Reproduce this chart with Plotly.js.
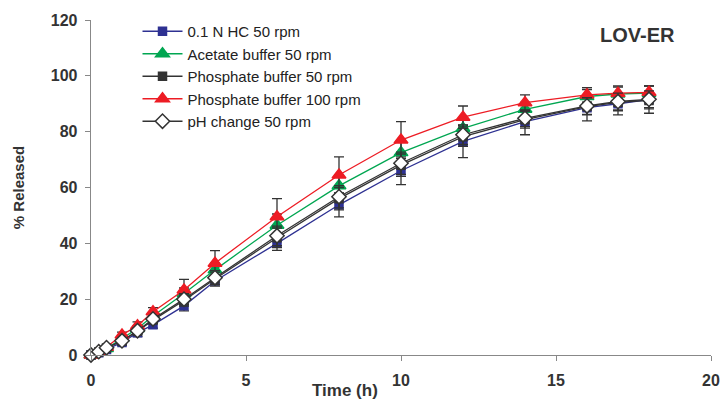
<!DOCTYPE html>
<html><head><meta charset="utf-8">
<script src="https://cdn.plot.ly/plotly-3.0.1.min.js"></script>
<style>body{margin:0;background:#fff}#chart{width:721px;height:400px}</style>
</head><body><div id="chart"></div>
<script>
const time = [0, 0.25, 0.5, 1, 1.5, 2, 3, 4, 6, 8, 10, 12, 14, 16, 17, 18];
const hcl50 = [0, 0.8, 2, 4.5, 8, 10.8, 17.6, 26.5, 40, 53.8, 66, 76.5, 83.6, 88.6, 90, 91.5];
const acetate50 = [0, 1, 2.3, 6, 9.5, 14, 22, 30.5, 46.5, 60.6, 72.5, 81.2, 88, 92.6, 93.5, 93.8];
const phosphate50 = [0, 1.1, 2.5, 5, 8.5, 12.5, 19.5, 27.2, 42, 56, 68, 78.2, 84.3, 89, 90.5, 91.2];
const phosphate100 = [0, 1.3, 2.8, 7.2, 10.5, 15.5, 23.3, 32.9, 49.5, 64.5, 77, 85.2, 90.4, 93.2, 93.8, 94.1];
const phChange50 = [0, 1.2, 2.6, 5.1, 8.7, 12.9, 20, 27.7, 42.7, 56.7, 68.7, 78.9, 84.8, 89.2, 90.8, 91.6];
const errHcl = [0, 0.5, 0.5, 1, 1.4, 1.2, 1.8, 1.2, 2.5, 4.3, 5, 5.8, 4.7, 4.7, 4, 4.9];
const errAcetate = [0, 0.4, 0.4, 0.8, 1, 1.2, 2, 2.5, 4, 4, 4, 3.5, 2.5, 2.5, 2.5, 2.5];
const errPhosphate50 = [0, 0.4, 0.4, 0.8, 1, 1.2, 2, 2.5, 3.5, 4, 4, 3.5, 3, 3, 3, 3];
const errPhosphate100 = [0, 0.5, 0.5, 1, 1.4, 1.5, 3.8, 4.5, 6.5, 6.5, 6.6, 4, 2.8, 2.6, 2.6, 2.3];
const errPhChange = [0, 0.4, 0.4, 0.8, 1, 1.2, 2, 2.5, 3.5, 4, 4, 3.5, 3, 3, 3, 3];
const names = ['0.1 N HC 50 rpm', 'Acetate buffer 50 rpm', 'Phosphate buffer 50 rpm', 'Phosphate buffer 100 rpm', 'pH change 50 rpm'];
const xTicks = [0, 5, 10, 15, 20];
const yTicks = [0, 20, 40, 60, 80, 100, 120];

const FONT = 'Liberation Sans, Arial, sans-serif';
function tr(y, err, name, color, symbol, size, mcolor, mline) {
  return {
    x: time, y: y, name: name, type: 'scatter', mode: 'lines+markers', cliponaxis: false,
    line: {color: color, width: 1.3},
    marker: {symbol: symbol, size: size, color: mcolor, line: {color: mline, width: 1.5}},
    error_y: {type: 'data', array: err, visible: true, color: '#333', thickness: 1.3, width: 5}
  };
}
const data = [
  tr(hcl50, errHcl, names[0], '#2e3192', 'square', 8, '#2e3192', '#2e3192'),
  tr(acetate50, errAcetate, names[1], '#00a651', 'triangle-up', 12, '#00a651', '#00a651'),
  tr(phosphate50, errPhosphate50, names[2], '#333333', 'square', 8, '#333333', '#333333'),
  tr(phosphate100, errPhosphate100, names[3], '#ed1c24', 'triangle-up', 12, '#ed1c24', '#ed1c24'),
  tr(phChange50, errPhChange, names[4], '#333333', 'diamond', 11, '#ffffff', '#333333')
];
const tickFont = {family: FONT, size: 16, color: '#333', weight: 'bold'};
const layout = {
  width: 721, height: 400,
  margin: {l: 91, r: 10, t: 20, b: 45},
  paper_bgcolor: '#fff', plot_bgcolor: '#fff',
  showlegend: true,
  legend: {x: 0.075, y: 1.015, xanchor: 'left', yanchor: 'top', bgcolor: 'rgba(0,0,0,0)',
    font: {family: FONT, size: 15, color: '#222'}, tracegroupgap: 0, itemwidth: 40},
  xaxis: {range: [0, 20], tickvals: xTicks, ticktext: xTicks.map(String), showgrid: false, zeroline: false,
    showline: true, linecolor: '#888', linewidth: 1.3, ticks: 'outside', ticklen: 5, tickcolor: '#888',
    tickfont: tickFont, ticklabelstandoff: 5},
  yaxis: {range: [0, 120], tickvals: yTicks, ticktext: yTicks.map(String), showgrid: false, zeroline: false,
    showline: true, linecolor: '#888', linewidth: 1.3, ticks: 'outside', ticklen: 5, tickcolor: '#888',
    tickfont: tickFont, ticklabelstandoff: 4,
    title: {text: '% Released', font: {family: FONT, size: 15, color: '#333', weight: 'bold'}, standoff: 22}},
  annotations: [
    {text: 'LOV-ER', x: 0.881, y: 0.955, xref: 'paper', yref: 'paper', showarrow: false,
     xanchor: 'center', yanchor: 'middle', font: {family: FONT, size: 20, color: '#333', weight: 'bold'}},
    {text: 'Time (h)', x: 0.409, y: -0.107, xref: 'paper', yref: 'paper', showarrow: false,
     xanchor: 'center', yanchor: 'middle', font: {family: FONT, size: 17, color: '#333', weight: 'bold'}}
  ]
};
Plotly.newPlot('chart', data, layout, {displayModeBar: false, staticPlot: true});
</script></body></html>
